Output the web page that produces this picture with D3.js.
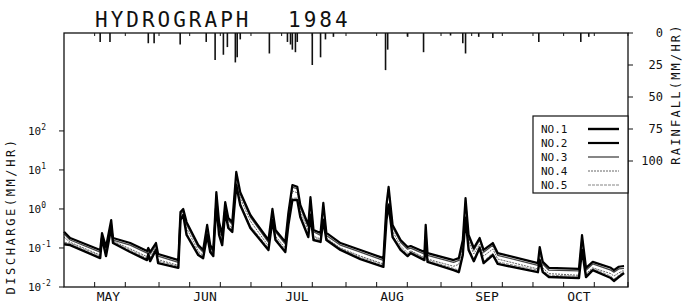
<!DOCTYPE html>
<html><head><meta charset="utf-8">
<script src="https://cdn.jsdelivr.net/npm/d3@7"></script>
<style>
body{margin:0;background:#fff;}
text{font-family:"DejaVu Sans Mono","Liberation Mono",monospace;fill:#111;}
</style></head><body>
<svg id="c" width="684" height="305"></svg>
<script>
// Day index from 1 May 1984 (day 0) to 1 Nov (day 184)
const days = [0,2,11.8,12.4,13.7,15.4,16,21.6,27.1,27.5,28.1,30,30.7,37.3,38,38.9,40,43.8,45.4,46.7,47.7,48.7,49.7,50.6,51.6,52.6,53.6,54.9,56.2,57.5,60.8,66.7,68,69,72.2,73.2,74.5,76.1,77.1,79.7,80.4,81.4,83.7,84.6,85.6,90.2,96.7,104.2,105.2,105.9,107.2,109.8,112.1,113.1,117.6,118,118.6,127.1,128.8,130.1,131,132,133.7,135.6,136.9,139.9,141.5,154.6,155.2,156.2,158.2,168,169,170.3,172.5,178.4,179.4,181,182.7];
// Discharge (mm/hr) per watershed
const no1 = [0.125,0.119,0.055,0.18,0.062,0.33,0.134,0.079,0.049,0.07,0.046,0.089,0.041,0.031,0.52,0.70,0.215,0.066,0.055,0.215,0.079,0.062,1.27,0.215,0.119,0.84,0.326,0.257,4.1,1.27,0.326,0.089,0.52,0.16,0.079,0.39,1.7,1.7,0.62,0.19,0.70,0.16,0.143,0.52,0.16,0.089,0.052,0.033,0.52,1.27,0.19,0.089,0.062,0.074,0.049,0.16,0.044,0.027,0.024,0.066,0.59,0.089,0.046,0.1,0.041,0.066,0.039,0.024,0.049,0.024,0.018,0.017,0.089,0.018,0.027,0.017,0.0143,0.018,0.0229];
const no2 = [0.26,0.18,0.089,0.24,0.106,0.52,0.18,0.134,0.084,0.10,0.079,0.134,0.070,0.049,0.84,1.0,0.46,0.119,0.089,0.39,0.119,0.089,2.7,0.46,0.215,1.5,0.59,0.46,8.9,2.7,0.70,0.16,1.0,0.29,0.143,0.79,4.1,3.7,1.27,0.39,2.0,0.29,0.243,1.43,0.243,0.134,0.089,0.055,1.27,3.7,0.39,0.16,0.106,0.112,0.079,0.39,0.074,0.049,0.055,0.16,1.91,0.215,0.1,0.18,0.089,0.134,0.074,0.041,0.106,0.044,0.031,0.029,0.215,0.031,0.044,0.031,0.027,0.033,0.0345];
const no3 = [0.23,0.16,0.078,0.21,0.093,0.46,0.16,0.118,0.074,0.088,0.07,0.118,0.062,0.043,0.74,0.9,0.4,0.105,0.078,0.34,0.105,0.078,2.4,0.4,0.19,1.32,0.52,0.4,7.8,2.4,0.62,0.14,0.88,0.26,0.126,0.7,3.6,3.3,1.12,0.34,1.76,0.26,0.21,1.26,0.21,0.118,0.078,0.048,1.12,3.3,0.34,0.14,0.093,0.099,0.07,0.34,0.065,0.043,0.048,0.14,1.68,0.19,0.088,0.16,0.078,0.118,0.065,0.036,0.093,0.039,0.027,0.026,0.19,0.027,0.039,0.027,0.024,0.029,0.03];
const no4 = [0.19,0.14,0.066,0.2,0.075,0.4,0.15,0.095,0.06,0.08,0.056,0.105,0.05,0.036,0.62,0.8,0.32,0.083,0.064,0.27,0.09,0.07,1.9,0.32,0.15,1.05,0.41,0.32,6.2,1.9,0.49,0.112,0.7,0.2,0.1,0.55,2.9,2.6,0.89,0.27,1.4,0.2,0.17,1.0,0.18,0.1,0.062,0.039,0.89,2.6,0.27,0.112,0.074,0.085,0.056,0.27,0.052,0.034,0.038,0.112,1.34,0.15,0.07,0.126,0.062,0.094,0.052,0.029,0.074,0.031,0.022,0.02,0.15,0.022,0.031,0.022,0.019,0.023,0.027];
const no5 = [0.14,0.133,0.062,0.19,0.069,0.37,0.145,0.088,0.055,0.075,0.051,0.097,0.046,0.034,0.58,0.76,0.24,0.074,0.062,0.24,0.088,0.069,1.4,0.24,0.133,0.94,0.37,0.29,4.6,1.4,0.37,0.1,0.58,0.18,0.088,0.44,1.9,1.9,0.69,0.21,0.78,0.18,0.16,0.58,0.17,0.097,0.058,0.037,0.58,1.4,0.21,0.1,0.069,0.083,0.055,0.18,0.049,0.03,0.027,0.074,0.66,0.1,0.052,0.112,0.046,0.074,0.044,0.027,0.055,0.027,0.02,0.019,0.1,0.02,0.03,0.019,0.016,0.02,0.025];
const seriesNames = ["NO.1","NO.2","NO.3","NO.4","NO.5"];
// Rainfall (mm/hr), hanging from the top
const rainDays = [11.8,15.0,27.5,29.4,37.9,46.4,49.3,52.0,53.3,55.9,56.5,57.5,67.0,72.9,73.9,74.5,75.5,76.1,81.0,83.7,85.3,87.9,104.9,105.6,112.1,117.3,126.1,130.1,131,135.3,139.9,154.9,168.6,171.2];
const rainVals = [7,7,8,8,9,7,21,17,11,23,19,5,16,7,9,13,15,7,25,19,5,3,29,13,3,15,2,8,16,3,4,7,7,3];
// Axis labels
const monthNames = ["MAY","JUN","JUL","AUG","SEP","OCT"];
const monthMidDays = [14.5,46,76,107,138,168];
const tickDays = [10,20,31,41,51,61,71,81,92,102,112,123,133,143,153,163,173,184];
const decadeExps = [-2,-1,0,1,2];
const rainTicks = [0,25,50,75,100];

const svg = d3.select("#c");
const L=64,R=628,T=33,B=287;
const x = d3.scaleLinear().domain([0,184]).range([L,R]);
const y = d3.scaleLog().domain([1e-2, Math.pow(10,4.51)]).range([B,T]);
const yr = d3.scaleLinear().domain([0,100]).range([T,161]);

// rainfall bars
svg.append("g").selectAll("line").data(rainDays).join("line")
  .attr("x1",d=>x(d)).attr("x2",d=>x(d))
  .attr("y1",yr(0)).attr("y2",(d,i)=>yr(rainVals[i]))
  .attr("stroke","#111").attr("stroke-width",1.6);

// discharge lines
const allSeries = [no1,no2,no3,no4,no5];
const styles = [
  {w:2.4,c:"#000",dash:null},
  {w:2.2,c:"#000",dash:null},
  {w:1.3,c:"#444",dash:null},
  {w:1.0,c:"#666",dash:"2,1"},
  {w:0.9,c:"#777",dash:"3,1"}
];
const line = d3.line().x(d=>x(d[0])).y(d=>y(d[1]));
const drawOrder=[4,3,2,1,0];
drawOrder.forEach(k=>{
  svg.append("path").datum(days.map((d,i)=>[d,allSeries[k][i]]))
    .attr("d",line).attr("fill","none")
    .attr("stroke",styles[k].c).attr("stroke-width",styles[k].w)
    .attr("stroke-dasharray",styles[k].dash)
    .attr("stroke-linejoin","round");
});

// frame
svg.append("rect").attr("x",L).attr("y",T).attr("width",R-L).attr("height",B-T)
  .attr("fill","none").attr("stroke","#111").attr("stroke-width",1.3);

// bottom & top ticks
svg.append("g").selectAll("line").data(tickDays).join("line")
  .attr("x1",d=>x(d)).attr("x2",d=>x(d)).attr("y1",B).attr("y2",B-5)
  .attr("stroke","#111").attr("stroke-width",1);
svg.append("g").selectAll("line").data(tickDays).join("line")
  .attr("x1",d=>x(d)).attr("x2",d=>x(d)).attr("y1",T).attr("y2",T+3)
  .attr("stroke","#111").attr("stroke-width",1);
svg.append("g").selectAll("text").data(monthNames).join("text")
  .attr("x",(d,i)=>x(monthMidDays[i])).attr("y",301)
  .attr("text-anchor","middle").attr("font-size",13).text(d=>d);

// left log axis
const lg = svg.append("g");
decadeExps.forEach(e=>{
  const yy=y(Math.pow(10,e));
  lg.append("line").attr("x1",L-5).attr("x2",L).attr("y1",yy).attr("y2",yy).attr("stroke","#111");
  const t=lg.append("text").attr("x",28).attr("y",yy+4).attr("font-size",11);
  t.append("tspan").text("10");
  t.append("tspan").attr("dy",-5).attr("font-size",8).text(e);
});
svg.append("text").attr("transform","translate(15,216) rotate(-90)")
  .attr("text-anchor","middle").attr("font-size",12).attr("letter-spacing",2.6)
  .text("DISCHARGE(MM/HR)");

// right rainfall axis
const rg = svg.append("g");
rainTicks.forEach(v=>{
  rg.append("line").attr("x1",R).attr("x2",R+5).attr("y1",yr(v)).attr("y2",yr(v)).attr("stroke","#111");
  rg.append("text").attr("x",663).attr("y",yr(v)+4).attr("text-anchor","end").attr("font-size",12).text(v);
});
svg.append("text").attr("transform","translate(680,94) rotate(-90)")
  .attr("text-anchor","middle").attr("font-size",12).attr("letter-spacing",2.2)
  .text("RAINFALL(MM/HR)");

// title
svg.append("text").attr("x",95).attr("y",27).attr("font-size",21).attr("letter-spacing",3)
  .text("HYDROGRAPH");
svg.append("text").attr("x",288).attr("y",27).attr("font-size",21).attr("letter-spacing",3)
  .text("1984");

// legend
const lgX=533, lgY=116;
svg.append("rect").attr("x",lgX).attr("y",lgY).attr("width",R-lgX).attr("height",77)
  .attr("fill","#fff").attr("stroke","#111").attr("stroke-width",1.2);
seriesNames.forEach((n,i)=>{
  const yy=lgY+13+i*14;
  svg.append("text").attr("x",541).attr("y",yy+4).attr("font-size",11).text(n);
  svg.append("line").attr("x1",588).attr("x2",619).attr("y1",yy).attr("y2",yy)
    .attr("stroke",styles[i].c).attr("stroke-width",styles[i].w)
    .attr("stroke-dasharray",styles[i].dash);
});
</script></body></html>
